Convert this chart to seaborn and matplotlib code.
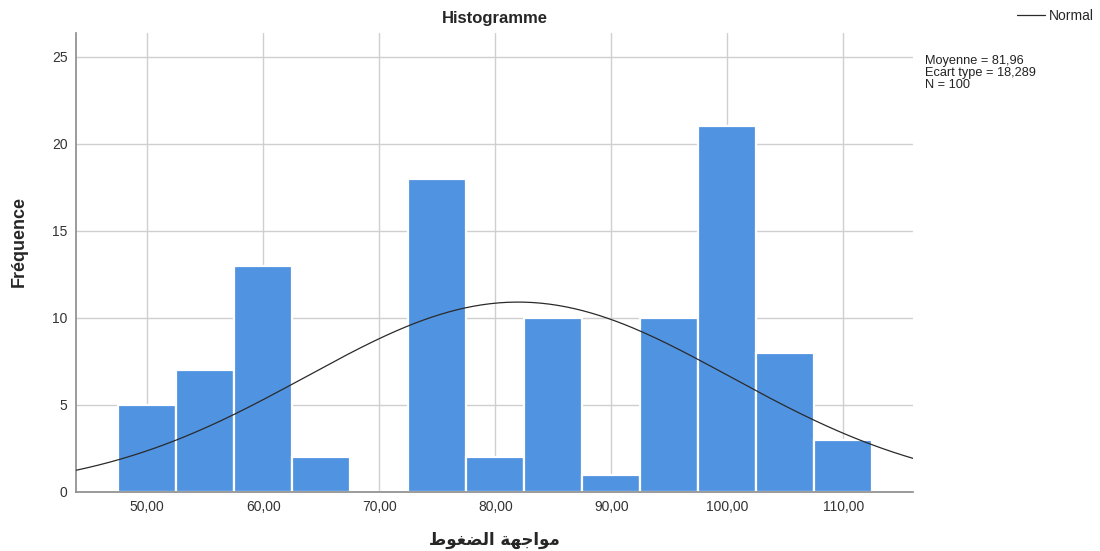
import matplotlib
matplotlib.use("Agg")
import matplotlib.pyplot as plt
import seaborn as sns
import numpy as np

# DATA
bin_centers = [50, 55, 60, 65, 70, 75, 80, 85, 90, 95, 100, 105, 110]
counts = [5, 7, 13, 2, 0, 18, 2, 10, 1, 10, 21, 8, 3]
bin_width = 5
mean_val = 81.96
std_val = 18.289
n_total = 100
x_ticks = [50, 60, 70, 80, 90, 100, 110]
y_ticks = [0, 5, 10, 15, 20, 25]

title = "Histogramme"
ylabel = "Fréquence"
# "مواجهة الضغوط" written with Arabic presentation forms in visual order,
# since matplotlib does no Arabic shaping / bidi on its own
xlabel = "\ufec1\ufeee\ufed0\ufec0\ufedf\ufe8d \ufe94\ufeec\ufe9f\ufe8d\ufeee\ufee3"
stats = "Moyenne = 81,96\nEcart type = 18,289\nN = 100"

# STYLE
sns.set_style("whitegrid")
plt.rcParams["font.family"] = ["Liberation Sans", "DejaVu Sans"]
BAR = "#5093E1"

fig = plt.figure(figsize=(11, 5.51), dpi=100)
ax = fig.add_axes([0.0691, 0.1071, 0.761, 0.833])

edges = [c - bin_width / 2 for c in bin_centers] + [bin_centers[-1] + bin_width / 2]
sns.histplot(x=bin_centers, weights=counts, bins=edges, color=BAR,
             edgecolor="white", linewidth=1.6, alpha=1, ax=ax, zorder=2)

# NORMAL CURVE
xs = np.linspace(43.87, 116.0, 300)
ys = n_total * bin_width / (std_val * np.sqrt(2 * np.pi)) * np.exp(-0.5 * ((xs - mean_val) / std_val) ** 2)
sns.lineplot(x=xs, y=ys, color="#2a2a2a", linewidth=0.9, ax=ax, label="Normal", zorder=3, legend=False)

ax.set_xlim(43.87, 116.0)
ax.set_ylim(0, 26.36)
ax.set_xticks(x_ticks)
ax.set_xticklabels([f"{t:.2f}".replace(".", ",") for t in x_ticks])
ax.set_yticks(y_ticks)
ax.set_yticklabels([str(t) for t in y_ticks])
ax.tick_params(axis="both", length=0, labelsize=10, labelcolor="#333333", pad=6)
ax.grid(True, color="#cfcfcf", linewidth=1)
ax.set_axisbelow(True)
for s in ["top", "right"]:
    ax.spines[s].set_visible(False)
for s in ["left", "bottom"]:
    ax.spines[s].set_color("#8a8a8a")
    ax.spines[s].set_linewidth(1.2)

ax.set_title(title, fontsize=12, fontweight="bold", pad=7)
ax.set_ylabel(ylabel, fontsize=13, fontweight="bold")
ax.yaxis.set_label_coords(-0.058, 0.545)
ax.set_xlabel(xlabel, fontsize=12, fontweight="bold", family=["DejaVu Sans"], labelpad=12)

fig.text(925 / 1100, 1 - 55 / 551, stats, fontsize=9.2, va="top", ha="left",
         linespacing=0.98, color="#222222")
fig.legend(loc="upper right", bbox_to_anchor=(1.006, 1.006), frameon=False,
           fontsize=10, handlelength=2.0, handletextpad=0.3)

fig.savefig("out.png", dpi=100)
